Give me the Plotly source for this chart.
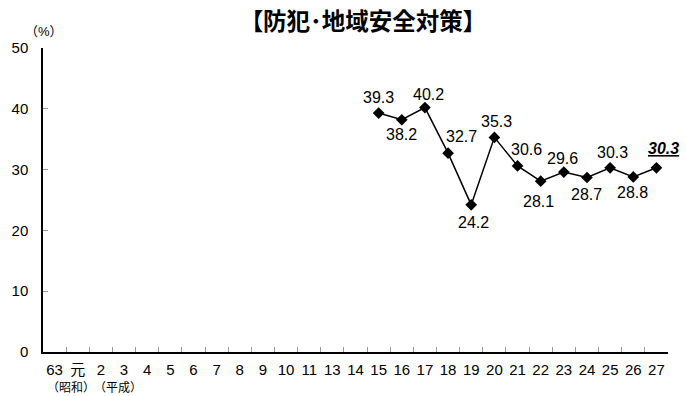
import plotly.graph_objects as go

categories = ["63", "元", "2", "3", "4", "5", "6", "7", "8", "9", "10", "11",
              "13", "14", "15", "16", "17", "18", "19", "20", "21", "22", "23",
              "24", "25", "26", "27"]
series_years = ["15", "16", "17", "18", "19", "20", "21", "22", "23", "24", "25", "26", "27"]
series_values = [39.3, 38.2, 40.2, 32.7, 24.2, 35.3, 30.6, 28.1, 29.6, 28.7, 30.3, 28.8, 30.3]
y_ticks = [0, 10, 20, 30, 40, 50]

# label offsets (style only): (xshift, yshift)
label_shift = [(0, 16), (0, -15), (4, 13), (13, 17), (2, -18), (2, 16), (9, 16),
               (-2, -20), (-1, 14), (0, -17), (2, 15), (-1, -16), (7, 19)]

FONT = "Liberation Sans, Arial, Noto Sans CJK JP, sans-serif"

fig = go.Figure()
fig.add_trace(go.Scatter(
    x=series_years, y=series_values, mode="lines+markers",
    line=dict(color="black", width=1.5),
    marker=dict(symbol="diamond", size=9, color="black"),
    hoverinfo="skip", showlegend=False,
))

annotations = []
for i, (xv, yv) in enumerate(zip(series_years, series_values)):
    dx, dy = label_shift[i]
    txt = f"{yv:.1f}"
    if i == len(series_values) - 1:
        txt = f"<b><i><u>{txt}</u></i></b>"
    annotations.append(dict(x=categories.index(xv), y=yv, xref="x", yref="y", text=txt,
                            showarrow=False, xshift=dx, yshift=dy,
                            font=dict(size=16, color="black", family=FONT)))

annotations += [
    dict(x=0.002, y=1.053, xref="paper", yref="paper", text="（%）", showarrow=False,
         font=dict(size=13, color="black", family=FONT), xanchor="center", yanchor="middle"),
    dict(x=0.045, y=-0.088, xref="paper", yref="paper", text="（昭和）", showarrow=False,
         font=dict(size=12, color="black", family=FONT), xanchor="center", yanchor="top"),
    dict(x=0.12, y=-0.088, xref="paper", yref="paper", text="（平成）", showarrow=False,
         font=dict(size=12, color="black", family=FONT), xanchor="center", yanchor="top"),
]

fig.update_layout(
    width=686, height=396,
    margin=dict(l=43, r=18, t=48, b=44),
    paper_bgcolor="white", plot_bgcolor="white",
    font=dict(family=FONT, color="black", size=15),
    title=dict(text="<b>【防犯･地域安全対策】</b>", x=0.512, xref="paper",
               y=0.944, yref="container", xanchor="center", yanchor="middle",
               font=dict(size=23.5, family="Noto Sans CJK JP, sans-serif", color="black")),
    annotations=annotations,
)
fig.update_xaxes(
    type="category", categoryorder="array", categoryarray=categories,
    range=[-0.5, len(categories) - 0.5], automargin=False, tickangle=0,
    showline=True, linecolor="black", linewidth=1.5,
    ticks="inside", tickson="boundaries", ticklen=5, tickcolor="#999999", tickwidth=1,
    showgrid=False, zeroline=False, tickfont=dict(size=15), ticklabelstandoff=3,
)
fig.update_yaxes(
    range=[0, 50], tickvals=y_ticks, automargin=False,
    showline=True, linecolor="black", linewidth=1.5,
    ticks="inside", ticklen=5, tickcolor="#999999", tickwidth=1,
    showgrid=False, zeroline=False, tickfont=dict(size=15), ticklabelstandoff=10,
)

fig.write_html("out.html", config={"displayModeBar": False},
               post_script="document.body.style.margin='0';document.body.style.padding='0';")
